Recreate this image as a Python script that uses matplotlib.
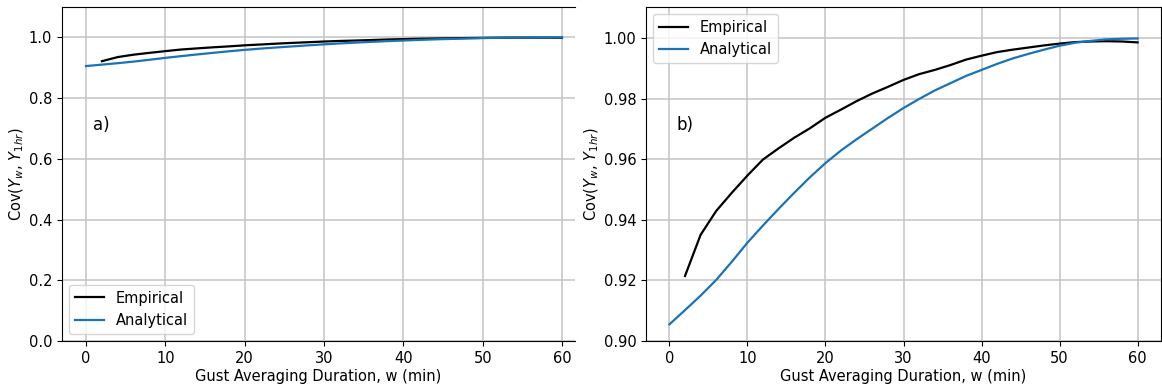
import matplotlib
matplotlib.use("Agg")
import matplotlib.pyplot as plt

# data
w_emp = [2, 4, 6, 8, 10, 12, 14, 16, 18, 20, 22, 24, 26, 28, 30, 32, 34, 36, 38,
         40, 42, 44, 46, 48, 50, 52, 54, 56, 58, 60]
cov_emp = [0.9215, 0.9351, 0.9430, 0.9490, 0.9547, 0.9600, 0.9637, 0.9672, 0.9703,
           0.9738, 0.9765, 0.9793, 0.9818, 0.9840, 0.9863, 0.9882, 0.9896, 0.9912,
           0.9930, 0.9943, 0.9955, 0.9963, 0.9970, 0.9977, 0.9983, 0.9988, 0.9990,
           0.9991, 0.9990, 0.9987]

w_ana = [0, 1.7, 4, 6, 8, 10, 12, 14, 16, 18, 20, 22, 24, 26, 28, 30, 32, 34, 36,
         38, 40, 42, 44, 46, 48, 50, 52, 54, 56, 58, 60]
cov_ana = [0.9055, 0.9095, 0.9150, 0.9202, 0.9262, 0.9325, 0.9382, 0.9437, 0.9490,
           0.9541, 0.9588, 0.9630, 0.9667, 0.9702, 0.9737, 0.9770, 0.9800, 0.9828,
           0.9852, 0.9876, 0.9896, 0.9916, 0.9934, 0.9949, 0.9963, 0.9976, 0.9986,
           0.9992, 0.9997, 0.9999, 1.0000]

W, H = 1162, 390
fig = plt.figure(figsize=(W / 100, H / 100), dpi=100)

blue = "#1a73b5"
xlabel = "Gust Averaging Duration, w (min)"
ylabel = "Cov($Y_w$, $Y_{1hr}$)"

ax1 = fig.add_axes([62 / W, (H - 341) / H, (575 - 62) / W, 334 / H])
ax2 = fig.add_axes([646 / W, (H - 341) / H, (1161 - 646) / W, 334 / H])

for ax in (ax1, ax2):
    ax.plot(w_emp, cov_emp, color="black", lw=1.6, label="Empirical")
    ax.plot(w_ana, cov_ana, color=blue, lw=1.6, label="Analytical")
    ax.grid(True, color="#c4c4c4", lw=1.1)
    ax.set_axisbelow(True)
    ax.set_xticks([0, 10, 20, 30, 40, 50, 60])
    ax.tick_params(labelsize=10.5)
    ax.set_xlabel(xlabel, fontsize=10.5, labelpad=2)
    ax.set_ylabel(ylabel, fontsize=10.5, labelpad=2)

ax1.set_xlim(-3.03, 61.64)
ax1.set_ylim(0, 1.1)
ax1.set_yticks([0.0, 0.2, 0.4, 0.6, 0.8, 1.0])
ax1.spines["right"].set_visible(False)
ax1.legend(loc="lower left", fontsize=10.5, handlelength=2)
ax1.text(0.06, 0.647, "a)", transform=ax1.transAxes, fontsize=12, va="center")

ax2.set_xlim(-3, 63)
ax2.set_ylim(0.9, 1.0104)
ax2.set_yticks([0.90, 0.92, 0.94, 0.96, 0.98, 1.00])
ax2.set_yticklabels(["0.90", "0.92", "0.94", "0.96", "0.98", "1.00"])
ax2.legend(loc="upper left", fontsize=10.5, handlelength=2)
ax2.text(0.06, 0.647, "b)", transform=ax2.transAxes, fontsize=12, va="center")

fig.savefig("out.png", dpi=100)
